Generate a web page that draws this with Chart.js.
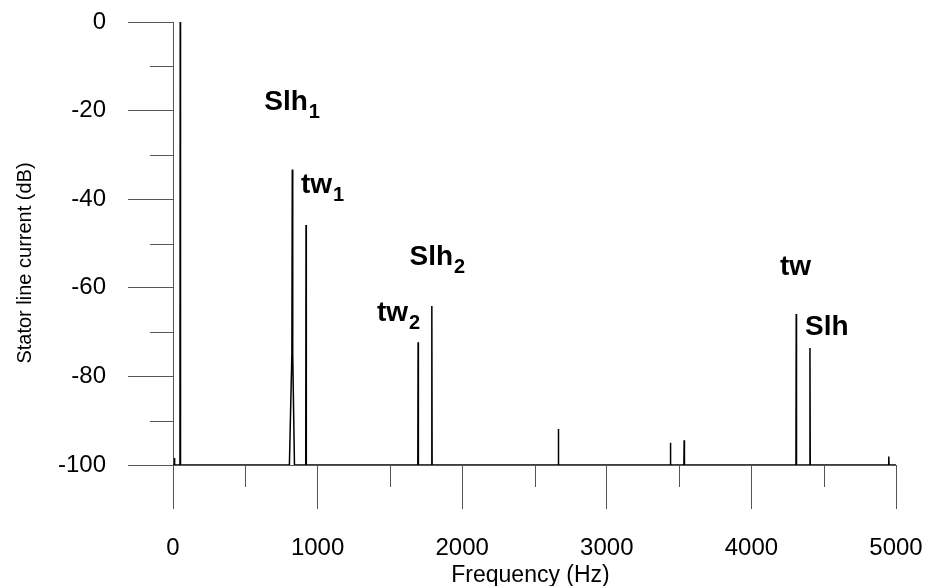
<!DOCTYPE html>
<html>
<head>
<meta charset="utf-8">
<script src="https://cdn.jsdelivr.net/npm/chart.js@4"></script>
<style>
  html, body { margin: 0; padding: 0; background: #fff; }
  #wrap { width: 925px; height: 586px; }
</style>
</head>
<body>
<div id="wrap"><canvas id="spectrumChart" width="925" height="586"></canvas></div>
<script>
// spectrum vertices (Hz, dB)
const freq = [0, 8, 10, 12, 48, 50, 52, 805, 822, 825, 828, 840, 918, 920, 922,
              1693, 1695, 1697, 1788, 1790, 1792, 2663, 2665, 2667,
              3438, 3440, 3442, 3533, 3535, 3537, 4308, 4310, 4312,
              4403, 4405, 4407, 4948, 4950, 4952, 5000];
const level = [-100, -100, -98.4, -100, -100, 0, -100, -100, -75, -33.3, -75, -100, -100, -45.8, -100,
               -100, -72.3, -100, -100, -64.1, -100, -100, -91.9, -100,
               -100, -95.0, -100, -100, -94.4, -100, -100, -65.9, -100,
               -100, -73.6, -100, -100, -98.1, -100, -100];

const xTicks = [0, 1000, 2000, 3000, 4000, 5000];
const xMinor = [500, 1500, 2500, 3500, 4500];
const yTicks = [0, -20, -40, -60, -80, -100];
const yMinor = [-10, -30, -50, -70, -90];

// peak names, anchored at (Hz, dB)
const peakNames = [
    { text: 'Slh', sub: '1', f: 631, db: -19.8 },
    { text: 'tw', sub: '1', f: 885, db: -38.6 },
    { text: 'Slh', sub: '2', f: 1636, db: -54.8 },
    { text: 'tw', sub: '2', f: 1410, db: -67.4 },
    { text: 'tw', sub: '', f: 4198, db: -57.0 },
    { text: 'Slh', sub: '', f: 4371, db: -70.6 }
];

const FONT = "'Liberation Sans', Arial, sans-serif";
const AXIS = '#555';

const extras = {
    id: 'extras',
    afterDraw(chart) {
        const ctx = chart.ctx;
        const xs = chart.scales.x, ys = chart.scales.y;
        const x0 = xs.getPixelForValue(0), y0 = ys.getPixelForValue(-100);
        ctx.save();
        ctx.strokeStyle = AXIS;
        ctx.lineWidth = 1;
        ctx.beginPath();
        yMinor.forEach(v => {
            const y = Math.round(ys.getPixelForValue(v)) + 0.5;
            ctx.moveTo(x0 - 23, y); ctx.lineTo(x0, y);
        });
        xMinor.forEach(v => {
            const x = Math.round(xs.getPixelForValue(v)) + 0.5;
            ctx.moveTo(x, y0); ctx.lineTo(x, y0 + 22);
        });
        ctx.stroke();

        // axis titles
        ctx.fillStyle = '#000';
        ctx.textAlign = 'center';
        ctx.textBaseline = 'middle';
        ctx.font = '23px ' + FONT;
        ctx.fillText('Frequency (Hz)', (xs.left + xs.right) / 2 - 4, 576);
        ctx.save();
        ctx.translate(25, 263);
        ctx.rotate(-Math.PI / 2);
        ctx.font = '20px ' + FONT;
        ctx.fillText('Stator line current (dB)', 0, 0);
        ctx.restore();

        // peak names
        ctx.textAlign = 'left';
        ctx.textBaseline = 'alphabetic';
        peakNames.forEach(p => {
            const x = xs.getPixelForValue(p.f), y = ys.getPixelForValue(p.db);
            ctx.font = 'bold 28px ' + FONT;
            ctx.fillText(p.text, x, y);
            const w = ctx.measureText(p.text).width;
            if (p.sub) {
                ctx.font = 'bold 20px ' + FONT;
                ctx.fillText(p.sub, x + w + 1, y + 8);
            }
        });
        ctx.restore();
    }
};

new Chart(document.getElementById('spectrumChart'), {
    type: 'line',
    data: {
        datasets: [{
            data: freq.map((f, i) => ({ x: f, y: level[i] })),
            borderColor: '#000',
            borderWidth: 1.5,
            pointRadius: 0,
            tension: 0,
            fill: false
        }]
    },
    options: {
        responsive: false,
        animation: false,
        events: [],
        layout: { padding: { top: 22, right: 29, left: 0, bottom: 0 } },
        plugins: { legend: { display: false }, tooltip: { enabled: false } },
        scales: {
            x: {
                type: 'linear',
                min: 0,
                max: 5000,
                afterBuildTicks: s => { s.ticks = xTicks.map(v => ({ value: v })); },
                afterFit: s => { s.height = 121; s.paddingLeft = 0; s.paddingRight = 0; },
                ticks: { color: '#000', padding: 25, maxRotation: 0, font: { family: FONT, size: 24 },
                         callback: v => String(v) },
                grid: { drawOnChartArea: false, tickLength: 44, tickColor: AXIS, lineWidth: 1 },
                border: { display: true, color: AXIS, width: 1 }
            },
            y: {
                type: 'linear',
                min: -100,
                max: 0,
                afterBuildTicks: s => { s.ticks = yTicks.map(v => ({ value: v })); },
                afterFit: s => { s.width = 173; s.paddingTop = 0; s.paddingBottom = 0; },
                ticks: { color: '#000', padding: 22, font: { family: FONT, size: 24 },
                         callback: v => String(v) },
                grid: { drawOnChartArea: false, tickLength: 45, tickColor: AXIS, lineWidth: 1 },
                border: { display: true, color: AXIS, width: 1 }
            }
        }
    },
    plugins: [extras]
});
</script>
</body>
</html>
